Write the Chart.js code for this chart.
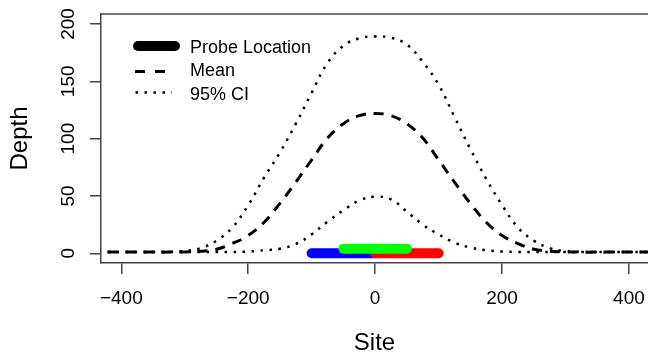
<!DOCTYPE html>
<html>
<head>
<meta charset="utf-8">
<script src="https://cdn.jsdelivr.net/npm/chart.js@4.4.0/dist/chart.umd.min.js"></script>
<style>
  html, body { margin: 0; padding: 0; background: #fff; }
</style>
</head>
<body>
<canvas id="depthChart" width="648" height="356"></canvas>
<script>
// sites along the transect
const sites = [-450, -425, -400, -375, -350, -325, -300, -275, -250, -225, -200, -175, -150, -125, -100, -75, -50, -25,
    0, 25, 50, 75, 100, 125, 150, 175, 200, 225, 250, 275, 300, 325, 350, 375, 400, 425, 450];

// depth estimates
const meanDepth = [1, 1, 1, 1, 1, 1, 1.2, 1.8, 3.5, 8.5, 15.5, 27, 43.5, 62, 81.5, 100.5, 113, 120,
    122, 120, 113, 100.5, 81.5, 62, 43.5, 27, 15.5, 8.5, 3.5, 1.8, 1.2, 1, 1, 1, 1, 1, 1];
const upperCI = [1, 1, 1, 1, 1, 1.2, 2, 4.5, 11, 22.5, 42, 66, 88, 113, 140, 166, 181, 187.5,
    189, 188, 182, 167, 147, 119, 91, 65, 42, 22.5, 11, 4.5, 2, 1.2, 1, 1, 1, 1, 1];
const lowerCI = [1, 1, 1, 1, 1, 1, 1, 1, 1, 1.1, 1.5, 2.6, 4, 8, 16.5, 27.5, 37.5, 46,
    49.4, 47, 36.3, 25, 16.5, 9.3, 5, 2.6, 1.5, 1.1, 1, 1, 1, 1, 1, 1, 1, 1, 1];

// probe segments
const probeStart = [-100, 0, -50];
const probeEnd = [0, 100, 50];
const probeDepth = [0, 0, 4];
const probeColors = ['#0000ff', '#ff0000', '#00ff00'];

const xTicks = [-400, -200, 0, 200, 400];
const yTicks = [0, 50, 100, 150, 200];
const legendLabels = ['Probe Location', 'Mean', '95% CI'];

const FONT = '"Liberation Sans", Arial, Helvetica, sans-serif';
const AXIS = '#444';

const toPoints = (xs, ys) => xs.map((x, i) => ({ x: x, y: ys[i] }));

const probeSets = probeStart.map((s, i) => ({
    label: legendLabels[0],
    data: [{ x: s, y: probeDepth[i] }, { x: probeEnd[i], y: probeDepth[i] }],
    borderColor: probeColors[i],
    borderWidth: 10,
    borderCapStyle: 'round',
    pointRadius: 0,
    order: 2 - i   // green on top, then red, then blue
}));

const curveSets = [
    { label: legendLabels[1], data: toPoints(sites, meanDepth), borderDash: [10, 8], borderWidth: 3, order: 3 },
    { label: legendLabels[2], data: toPoints(sites, upperCI), borderDash: [2.5, 6.5], borderWidth: 2.5, order: 4 },
    { label: legendLabels[2], data: toPoints(sites, lowerCI), borderDash: [2.5, 6.5], borderWidth: 2.5, order: 5 }
].map(d => Object.assign(d, {
    borderColor: '#000',
    pointRadius: 0,
    tension: 0.4
}));

// text, box top and legend, R style
const rDecor = {
    id: 'rDecor',
    afterDraw(chart) {
        const { ctx, chartArea, scales } = chart;
        const y = scales.y;
        ctx.save();

        // top side of the plot box
        ctx.strokeStyle = AXIS;
        ctx.lineWidth = 1.5;
        ctx.beginPath();
        ctx.moveTo(chartArea.left, chartArea.top);
        ctx.lineTo(chartArea.right + 2, chartArea.top);
        ctx.stroke();

        ctx.fillStyle = '#000';

        // y tick labels, rotated like R (las = 0)
        ctx.font = '19px ' + FONT;
        ctx.textAlign = 'center';
        ctx.textBaseline = 'alphabetic';
        yTicks.forEach(v => {
            ctx.save();
            ctx.translate(74, y.getPixelForValue(v));
            ctx.rotate(-Math.PI / 2);
            ctx.fillText(String(v), 0, 0);
            ctx.restore();
        });

        // axis titles
        const midX = (chartArea.left + chartArea.right) / 2;
        const midY = (chartArea.top + chartArea.bottom) / 2;
        ctx.font = '24px ' + FONT;
        ctx.fillText('Site', midX, 350);
        ctx.save();
        ctx.translate(27, midY);
        ctx.rotate(-Math.PI / 2);
        ctx.fillText('Depth', 0, 0);
        ctx.restore();

        // legend (no box)
        const rows = [46, 71.5, 92.5];
        const base = [53, 76.3, 99.6];
        ctx.strokeStyle = '#000';
        ctx.lineWidth = 10;
        ctx.lineCap = 'round';
        ctx.beginPath();
        ctx.moveTo(138, rows[0]);
        ctx.lineTo(175, rows[0]);
        ctx.stroke();

        ctx.lineCap = 'butt';
        ctx.lineWidth = 3;
        ctx.setLineDash([10, 10]);
        ctx.beginPath();
        ctx.moveTo(135, rows[1]);
        ctx.lineTo(172, rows[1]);
        ctx.stroke();

        ctx.lineWidth = 2.5;
        ctx.setLineDash([2.5, 6.5]);
        ctx.beginPath();
        ctx.moveTo(135.5, rows[2]);
        ctx.lineTo(172, rows[2]);
        ctx.stroke();
        ctx.setLineDash([]);

        ctx.font = '18px ' + FONT;
        ctx.textAlign = 'left';
        legendLabels.forEach((t, i) => ctx.fillText(t, 190, base[i]));

        ctx.restore();
    }
};

const depthConfig = {
    type: 'line',
    data: { datasets: probeSets.concat(curveSets) },
    options: {
        responsive: false,
        animation: false,
        layout: { padding: { top: 14, left: 0, right: 0, bottom: 0 } },
        scales: {
            x: {
                type: 'linear',
                min: -432,
                max: 430,
                afterFit: s => { s.height = 93; s.paddingLeft = 0; s.paddingRight = 0; },
                afterBuildTicks: s => { s.ticks = xTicks.map(v => ({ value: v })); },
                ticks: {
                    font: { size: 19, family: FONT },
                    color: '#000',
                    padding: 13,
                    maxRotation: 0,
                    autoSkip: false,
                    callback: v => v < 0 ? '\u2212' + Math.abs(v) : String(v)
                },
                grid: { drawOnChartArea: false, drawTicks: true, tickLength: 11, color: AXIS, lineWidth: 1.5 },
                border: { display: true, color: AXIS, width: 1.5 }
            },
            y: {
                type: 'linear',
                min: -8.5,
                max: 208.7,
                afterFit: s => { s.width = 101; s.paddingTop = 0; s.paddingBottom = 0; },
                afterBuildTicks: s => { s.ticks = yTicks.map(v => ({ value: v })); },
                ticks: { display: false },
                grid: { drawOnChartArea: false, drawTicks: true, tickLength: 11, color: AXIS, lineWidth: 1.5 },
                border: { display: true, color: AXIS, width: 1.5 }
            }
        },
        plugins: {
            legend: { display: false },
            tooltip: { enabled: false }
        }
    },
    plugins: [rDecor]
};

const depthCtx = document.getElementById('depthChart').getContext('2d');
const depthChart = new Chart(depthCtx, depthConfig);
</script>
</body>
</html>
